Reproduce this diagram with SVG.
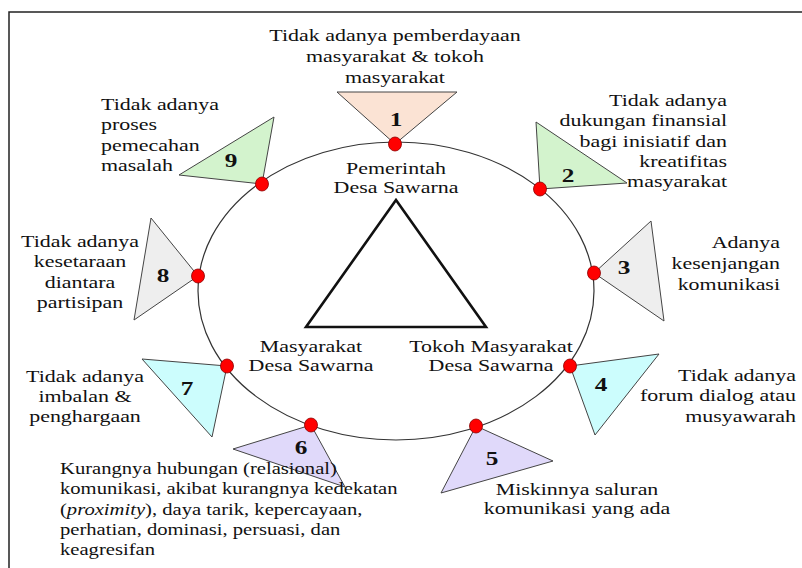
<svg xmlns="http://www.w3.org/2000/svg" width="802" height="568" viewBox="0 0 802 568">
<style>
.t{font-family:"Liberation Serif","Times New Roman",serif;font-size:16.5px;fill:#111}
.n{font-family:"Liberation Serif","Times New Roman",serif;font-size:19px;font-weight:bold;fill:#111;text-anchor:middle}
.tri{stroke:#444;stroke-width:1;stroke-linejoin:round}
.dot{fill:#ff0000;stroke:#8a0000;stroke-width:0.8}
.c1{fill:#fbe3d4}.c2{fill:#d3f3cd}.c3{fill:#eeeeee}.c4{fill:#ccfdfd}.c5{fill:#e0d9fa}
</style>
<rect width="802" height="568" fill="#fff"/>
<path d="M9,568 V12 H802" fill="none" stroke="#222" stroke-width="1.5"/>
<g id="connectors">
<ellipse cx="396" cy="291" rx="198" ry="149" fill="none" stroke="#333" stroke-width="1.2"/>
</g>
<g id="center">
<polygon points="396,200 306,327 486,327" fill="none" stroke="#111" stroke-width="2.6" stroke-linejoin="miter"/>
<text class="t" text-anchor="middle" transform="translate(396,174) scale(1.33,1)"><tspan x="0">Pemerintah</tspan><tspan x="0" dy="19">Desa Sawarna</tspan></text>
<text class="t" text-anchor="middle" transform="translate(311,352) scale(1.33,1)"><tspan x="0">Masyarakat</tspan><tspan x="0" dy="19">Desa Sawarna</tspan></text>
<text class="t" text-anchor="middle" transform="translate(491,352) scale(1.33,1)"><tspan x="0">Tokoh Masyarakat</tspan><tspan x="0" dy="19">Desa Sawarna</tspan></text>
</g>
<g id="node1">
<polygon class="tri c1" points="337,92 457,92 395,144"/>
<text class="n" transform="translate(396,126) scale(1.33,1)">1</text>
<ellipse class="dot" cx="395" cy="144" rx="6.5" ry="7"/>
<text class="t" text-anchor="middle" transform="translate(395,41) scale(1.33,1)"><tspan x="0">Tidak adanya pemberdayaan</tspan><tspan x="0" dy="21">masyarakat &amp; tokoh</tspan><tspan x="0" dy="21">masyarakat</tspan></text>
</g>
<g id="node2">
<polygon class="tri c2" points="536,122 627,183 540,189"/>
<text class="n" transform="translate(568,182) scale(1.33,1)">2</text>
<ellipse class="dot" cx="540" cy="189" rx="6.5" ry="7"/>
<text class="t" text-anchor="end" transform="translate(727,106) scale(1.33,1)"><tspan x="0">Tidak adanya</tspan><tspan x="0" dy="20.3">dukungan finansial</tspan><tspan x="0" dy="20.3">bagi inisiatif dan</tspan><tspan x="0" dy="20.3">kreatifitas</tspan><tspan x="0" dy="20.3">masyarakat</tspan></text>
</g>
<g id="node3">
<polygon class="tri c3" points="651,221 664,321 594,273"/>
<text class="n" transform="translate(624,274) scale(1.33,1)">3</text>
<ellipse class="dot" cx="594" cy="273" rx="6.5" ry="7"/>
<text class="t" text-anchor="end" transform="translate(780,248) scale(1.33,1)"><tspan x="0">Adanya</tspan><tspan x="0" dy="21">kesenjangan</tspan><tspan x="0" dy="21">komunikasi</tspan></text>
</g>
<g id="node4">
<polygon class="tri c4" points="570,366 659,354 595,435"/>
<text class="n" transform="translate(601,391) scale(1.33,1)">4</text>
<ellipse class="dot" cx="570" cy="366" rx="6.5" ry="7"/>
<text class="t" text-anchor="end" transform="translate(796,381) scale(1.33,1)"><tspan x="0">Tidak adanya</tspan><tspan x="0" dy="20.5">forum dialog atau</tspan><tspan x="0" dy="20.5">musyawarah</tspan></text>
</g>
<g id="node5">
<polygon class="tri c5" points="476,426 553,461 441,493"/>
<text class="n" transform="translate(492,465) scale(1.33,1)">5</text>
<ellipse class="dot" cx="476" cy="426" rx="6.5" ry="7"/>
<text class="t" text-anchor="middle" transform="translate(577,495) scale(1.33,1)"><tspan x="0">Miskinnya saluran</tspan><tspan x="0" dy="19.5">komunikasi yang ada</tspan></text>
</g>
<g id="node6">
<polygon class="tri c5" points="311,425 233,449 345,487"/>
<text class="n" transform="translate(301,454) scale(1.33,1)">6</text>
<ellipse class="dot" cx="311" cy="425" rx="6.5" ry="7"/>
<text class="t" transform="translate(60,474) scale(1.25,1)"><tspan x="0">Kurangnya hubungan (relasional)</tspan><tspan x="0" dy="20.3">komunikasi, akibat kurangnya kedekatan</tspan><tspan x="0" dy="20.3">(<tspan font-style="italic">proximity</tspan>), daya tarik, kepercayaan,</tspan><tspan x="0" dy="20.3">perhatian, dominasi, persuasi, dan</tspan><tspan x="0" dy="20.3">keagresifan</tspan></text>
</g>
<g id="node7">
<polygon class="tri c4" points="227,366 142,359 212,437"/>
<text class="n" transform="translate(187,395) scale(1.33,1)">7</text>
<ellipse class="dot" cx="227" cy="366" rx="6.5" ry="7"/>
<text class="t" text-anchor="middle" transform="translate(85,382) scale(1.33,1)"><tspan x="0">Tidak adanya</tspan><tspan x="0" dy="20">imbalan &amp;</tspan><tspan x="0" dy="20">penghargaan</tspan></text>
</g>
<g id="node8">
<polygon class="tri c3" points="151,218 134,320 198,276"/>
<text class="n" transform="translate(163,282) scale(1.33,1)">8</text>
<ellipse class="dot" cx="198" cy="276" rx="6.5" ry="7"/>
<text class="t" text-anchor="middle" transform="translate(80,247) scale(1.33,1)"><tspan x="0">Tidak adanya</tspan><tspan x="0" dy="20.5">kesetaraan</tspan><tspan x="0" dy="20.5">diantara</tspan><tspan x="0" dy="20.5">partisipan</tspan></text>
</g>
<g id="node9">
<polygon class="tri c2" points="274,117 179,175 262,184"/>
<text class="n" transform="translate(231,167) scale(1.33,1)">9</text>
<ellipse class="dot" cx="262" cy="184" rx="6.5" ry="7"/>
<text class="t" transform="translate(101,110) scale(1.33,1)"><tspan x="0">Tidak adanya</tspan><tspan x="0" dy="20.5">proses</tspan><tspan x="0" dy="20.5">pemecahan</tspan><tspan x="0" dy="20.5">masalah</tspan></text>
</g>
</svg>
